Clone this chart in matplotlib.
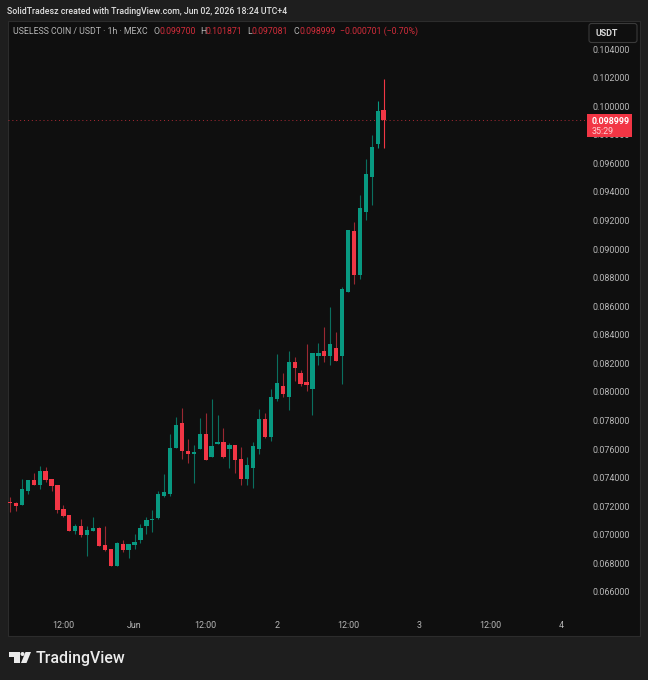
import matplotlib
matplotlib.use('Agg')
import matplotlib.pyplot as plt
from matplotlib.patches import Rectangle, FancyBboxPatch, Polygon, Circle

plt.rcParams['font.family'] = ['Roboto', 'DejaVu Sans']

# hourly candles
opens = [0.072298, 0.072251, 0.072111, 0.073091, 0.073861, 0.073488, 0.074444, 0.073907,
         0.073464, 0.071785, 0.071365, 0.070268, 0.070595, 0.069988, 0.070292, 0.070455,
         0.069289, 0.069032, 0.067842, 0.069359, 0.068939, 0.069289, 0.069662, 0.070618,
         0.071038, 0.071155, 0.072741, 0.072858, 0.076100, 0.077826, 0.075844, 0.075657,
         0.076008, 0.077081, 0.075472, 0.076381, 0.076475, 0.076008, 0.076288, 0.075308,
         0.073909, 0.074655, 0.076008, 0.078107, 0.076848, 0.079484, 0.080417, 0.079647,
         0.082073, 0.081350, 0.080720, 0.080207, 0.082540, 0.082866, 0.082516, 0.083053,
         0.082537, 0.086995, 0.091264, 0.088205, 0.092614, 0.095063, 0.097352, 0.099700]
highs = [0.072624, 0.072270, 0.073884, 0.073861, 0.074304, 0.074817, 0.074724, 0.073907,
         0.073464, 0.072065, 0.071365, 0.070758, 0.071085, 0.070618, 0.071272, 0.070525,
         0.070618, 0.069032, 0.069522, 0.069615, 0.069335, 0.070058, 0.070735, 0.071248,
         0.071715, 0.073091, 0.074234, 0.077033, 0.078223, 0.078853, 0.076683, 0.076287,
         0.078154, 0.078527, 0.079507, 0.078388, 0.077454, 0.076451, 0.076288, 0.076171,
         0.075425, 0.076475, 0.078784, 0.078527, 0.080184, 0.082656, 0.081303, 0.082843,
         0.082423, 0.081537, 0.083356, 0.082703, 0.083449, 0.084566, 0.085945, 0.084196,
         0.087345, 0.091334, 0.091894, 0.093783, 0.096302, 0.097982, 0.100361, 0.101871]
lows = [0.071621, 0.071691, 0.072111, 0.072834, 0.073511, 0.073208, 0.073721, 0.073044,
        0.071551, 0.071225, 0.070292, 0.070035, 0.069872, 0.068542, 0.070245, 0.069219,
        0.068892, 0.067842, 0.067842, 0.068799, 0.068379, 0.069032, 0.069405, 0.070058,
        0.070198, 0.071085, 0.072625, 0.072741, 0.076100, 0.075284, 0.075050, 0.073628,
        0.076008, 0.075262, 0.075472, 0.076381, 0.075378, 0.074655, 0.074329, 0.073489,
        0.073466, 0.073279, 0.075658, 0.076778, 0.076568, 0.079390, 0.079647, 0.078761,
        0.080767, 0.080440, 0.080067, 0.078411, 0.081863, 0.082120, 0.081863, 0.082190,
        0.080578, 0.086995, 0.087555, 0.087925, 0.092055, 0.093083, 0.097093, 0.097081]
closes = [0.072205, 0.072018, 0.073208, 0.073861, 0.073511, 0.074444, 0.073861, 0.073441,
          0.071738, 0.071318, 0.070292, 0.070618, 0.069965, 0.070338, 0.070478, 0.069242,
          0.068962, 0.067842, 0.069452, 0.068939, 0.069335, 0.069499, 0.070455, 0.071038,
          0.071108, 0.072834, 0.072974, 0.076100, 0.077710, 0.075867, 0.075680, 0.075797,
          0.077081, 0.075262, 0.076241, 0.076498, 0.075448, 0.076311, 0.075238, 0.073909,
          0.074865, 0.076218, 0.078107, 0.076824, 0.079624, 0.080627, 0.079880, 0.082073,
          0.081677, 0.080557, 0.080487, 0.082703, 0.082750, 0.082540, 0.083356, 0.082190,
          0.087205, 0.091334, 0.088205, 0.092873, 0.095231, 0.097121, 0.099682, 0.098999]

price_ticks = [0.066, 0.068, 0.070, 0.072, 0.074, 0.076, 0.078, 0.080, 0.082, 0.084,
               0.086, 0.088, 0.090, 0.092, 0.094, 0.096, 0.098, 0.100, 0.102, 0.104]
time_ticks = [9, 21, 33, 45, 57, 69, 81, 93]
time_labels = ['12:00', 'Jun', '12:00', '2', '12:00', '3', '12:00', '4']
last_price = 0.098999

UP = '#089981'
DOWN = '#f23645'
OUTER = '#1e1e1e'
PANE = '#0f0f0f'
W, H = 648, 680

fig = plt.figure(figsize=(6.48, 6.8), dpi=100, facecolor=OUTER)

# frame behind the chart
bg = fig.add_axes([0, 0, 1, 1], zorder=0)
bg.set_xlim(0, W)
bg.set_ylim(H, 0)
bg.axis('off')
bg.add_patch(Rectangle((7.5, 20.5), 632.5, 615, facecolor=PANE, edgecolor='#2c2c2c', linewidth=0.8))

# main chart
left, right, top, bottom = 8, 587, 21, 617
ax = fig.add_axes([left / W, 1 - bottom / H, (right - left) / W, (bottom - top) / H], zorder=1)
ax.patch.set_alpha(0)
x = list(range(len(opens)))
colors = [UP if c >= o else DOWN for o, c in zip(opens, closes)]
wick_colors = ['#0a6f5f' if c >= o else '#9a2832' for o, c in zip(opens, closes)]
wick_colors[-1] = DOWN
wick_colors[-2] = UP
ax.vlines(x, lows, highs, colors=wick_colors, linewidth=0.8, zorder=2)
ax.bar(x, [abs(c - o) for o, c in zip(opens, closes)], bottom=[min(o, c) for o, c in zip(opens, closes)],
       width=0.72, color=colors, linewidth=0, zorder=3)
ax.axhline(last_price, color=DOWN, linewidth=0.7, linestyle=(0, (1, 3)), alpha=0.7, zorder=1)

ax.set_xlim(-0.337, 97.3)
ax.set_ylim(0.06425, 0.10596)
ax.yaxis.tick_right()
ax.set_yticks(price_ticks)
ax.set_yticklabels([f'{p:.6f}' for p in price_ticks])
ax.set_xticks(time_ticks)
ax.set_xticklabels(time_labels)
ax.tick_params(axis='y', length=0, pad=3.8, labelsize=6.4, labelcolor='#b8b8b8')
ax.tick_params(axis='x', length=0, pad=3, labelsize=6.4, labelcolor='#b8b8b8')
for s in ax.spines.values():
    s.set_visible(False)

# header, legend, price tag and logo
ov = fig.add_axes([0, 0, 1, 1], zorder=2)
ov.patch.set_alpha(0)
ov.set_xlim(0, W)
ov.set_ylim(H, 0)
ov.axis('off')

ov.text(7, 11, 'SolidTradesz created with TradingView.com, Jun 02, 2026 18:24 UTC+4',
        color='#e0e0e0', fontsize=6.3, fontweight='medium', va='center')

legend_y = 31
ov.text(13, legend_y, 'USELESS COIN / USDT · 1h · MEXC', color='#b8b8b8', fontsize=6.3, va='center')
for lx, letter, vx, val in [(153, 'O', 159, '0.099700'), (200, 'H', 206, '0.101871'),
                            (247, 'L', 252, '0.097081'), (293, 'C', 299, '0.098999')]:
    ov.text(lx, legend_y, letter, color='#b8b8b8', fontsize=6.3, va='center')
    ov.text(vx, legend_y, val, color='#d02c3a', fontsize=6.3, va='center')
ov.text(340, legend_y, '\u22120.000701 (\u22120.70%)', color='#d02c3a', fontsize=6.3, va='center')

ov.add_patch(FancyBboxPatch((589, 23.5), 48, 19, boxstyle='round,pad=0,rounding_size=2.5',
                            facecolor=PANE, edgecolor='#3a3a3a', linewidth=0.8))
ov.text(595, 33, 'USDT', color='#d8d8d8', fontsize=6.4, fontweight='bold', va='center')

ov.add_patch(Rectangle((587, 114), 45, 23, facecolor=DOWN, edgecolor='none'))
ov.text(592, 121, '0.098999', color='white', fontsize=6.4, fontweight='bold', va='center')
ov.text(592, 131, '35:29', color='#ffd0d4', fontsize=6.4, va='center')

ov.add_patch(Polygon([(9, 652), (20, 652), (20, 663), (14, 663), (14, 657), (9, 657)],
                     facecolor='#ececec', edgecolor='none'))
ov.add_patch(Circle((22.5, 654), 2, facecolor='#ececec', edgecolor='none'))
ov.add_patch(Polygon([(25.5, 652), (31, 652), (26.5, 663), (21, 663)], facecolor='#ececec', edgecolor='none'))
ov.text(36, 658, 'TradingView', color='#ececec', fontsize=11.4, fontweight='medium', va='center')

fig.savefig('out.png', dpi=100, facecolor=OUTER)
